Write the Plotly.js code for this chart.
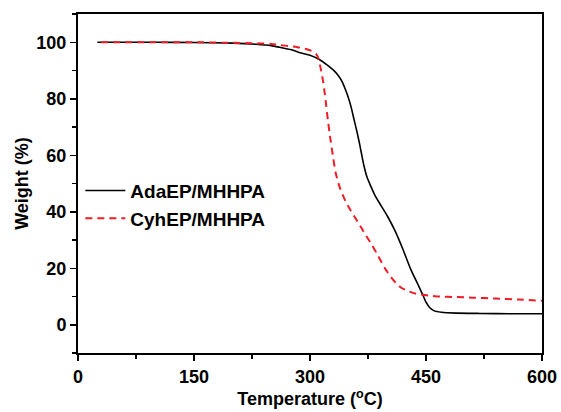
<!DOCTYPE html>
<html>
<head>
<meta charset="utf-8">
<script src="https://cdn.plot.ly/plotly-3.0.1.min.js"></script>
<style>html,body{margin:0;padding:0;background:#fff;}#chart{width:561px;height:412px;}</style>
</head>
<body>
<div id="chart"></div>
<script>
const adaTemp = [25, 50, 100, 150, 200, 230, 250, 261, 275, 287, 300, 312, 322, 330, 336, 341, 345, 349, 353, 357, 361, 364, 367, 370, 374, 379, 384, 390, 400, 410, 420, 430, 440, 446, 450, 455, 460, 470, 490, 520, 560, 600];
const adaWeight = [100, 100, 100, 99.9, 99.7, 99.3, 98.8, 98.2, 97.4, 96.3, 95.4, 93.9, 92.0, 90.2, 88.4, 86.3, 83.8, 80.9, 77.2, 72.6, 68.0, 64.2, 60.0, 56.0, 52.0, 48.8, 45.8, 43.0, 38.5, 33.2, 26.8, 19.8, 14.0, 10.5, 8.0, 6.0, 5.0, 4.4, 4.1, 4.0, 3.9, 3.9];
const cyhTemp = [30, 50, 100, 150, 200, 230, 250, 261, 275, 287, 296, 304, 308, 311, 314, 317, 319, 321, 323, 325, 327, 330, 333, 338, 343, 347, 353, 360, 366, 373, 380, 386, 392, 398, 405, 411, 418, 428, 437, 446, 456, 467, 490, 510, 540, 570, 600];
const cyhWeight = [100, 100, 100, 100, 99.8, 99.6, 99.4, 99.0, 98.6, 98.1, 97.5, 96.7, 95.8, 94.2, 90.5, 86.0, 82.0, 77.5, 72.6, 68.5, 64.6, 59.0, 54.0, 49.0, 45.5, 43.1, 40.3, 37.2, 34.5, 31.3, 28.3, 25.4, 22.4, 19.5, 16.8, 14.8, 13.1, 11.8, 11.0, 10.6, 10.3, 10.0, 9.8, 9.6, 9.3, 8.9, 8.5];
const seriesNames = ["AdaEP/MHHPA", "CyhEP/MHHPA"];
const xTicks = [0, 150, 300, 450, 600];
const yTicks = [0, 20, 40, 60, 80, 100];

const fontFam = "Liberation Sans, Arial, sans-serif";
const traces = [
  {x: adaTemp, y: adaWeight, name: seriesNames[0], type: "scatter", mode: "lines",
   line: {color: "#000000", width: 1.6, shape: "spline", smoothing: 0.5}},
  {x: cyhTemp, y: cyhWeight, name: seriesNames[1], type: "scatter", mode: "lines",
   line: {color: "#ee1c25", width: 2, dash: "7px,5px", shape: "spline", smoothing: 0.5}}
];
const layout = {
  width: 561, height: 412,
  margin: {l: 78, r: 19, t: 14, b: 59, pad: 0},
  paper_bgcolor: "#ffffff", plot_bgcolor: "#ffffff",
  font: {family: fontFam, size: 17, color: "#000"},
  showlegend: true,
  legend: {x: 0.005, y: 0.535, xanchor: "left", yanchor: "top", bgcolor: "rgba(0,0,0,0)",
           font: {family: fontFam, size: 19, color: "#000", weight: "bold"}, itemwidth: 40, tracegroupgap: 0},
  xaxis: {range: [0, 600], tickvals: xTicks, ticktext: xTicks.map(String),
    showline: true, linecolor: "#000", linewidth: 2, mirror: true, showgrid: false, zeroline: false,
    ticks: "outside", ticklen: 6, tickwidth: 1.5, tickcolor: "#000",
    minor: {dtick: 75, tick0: 0, ticks: "outside", ticklen: 4, tickwidth: 1.5, tickcolor: "#000", showgrid: false},
    tickfont: {family: fontFam, size: 18, color: "#000", weight: "bold"},
    title: {text: "Temperature (<sup>o</sup>C)", font: {family: fontFam, size: 18, color: "#000", weight: "bold"}, standoff: 6}},
  yaxis: {range: [-10, 110], tickvals: yTicks, ticktext: yTicks.map(String),
    showline: true, linecolor: "#000", linewidth: 2, mirror: true, showgrid: false, zeroline: false,
    ticks: "outside", ticklen: 6, tickwidth: 1.5, tickcolor: "#000",
    minor: {dtick: 10, tick0: 0, ticks: "outside", ticklen: 4, tickwidth: 1.5, tickcolor: "#000", showgrid: false},
    tickfont: {family: fontFam, size: 18, color: "#000", weight: "bold"},
    title: {text: "Weight (%)", font: {family: fontFam, size: 18, color: "#000", weight: "bold"}, standoff: 3}}
};
Plotly.newPlot("chart", traces, layout, {displayModeBar: false, staticPlot: true});
</script>
</body>
</html>
